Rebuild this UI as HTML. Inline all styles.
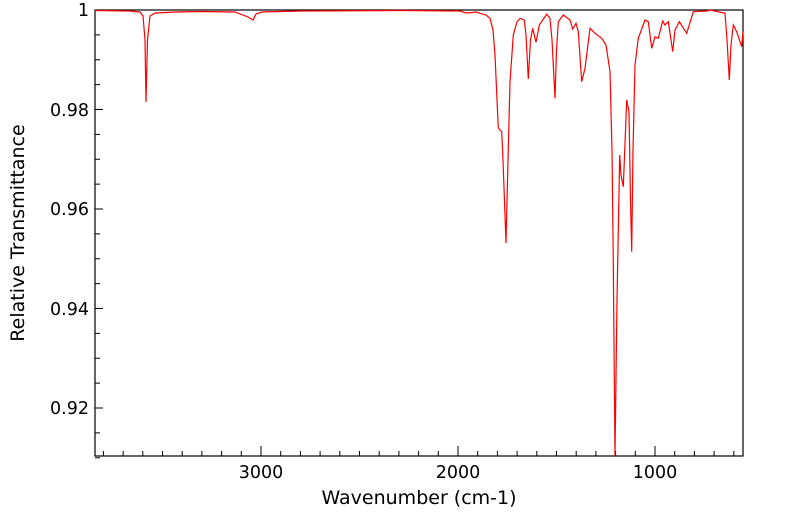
<!DOCTYPE html>
<html><head><style>body{margin:0;background:#fff}svg{display:block}text{font-family:"DejaVu Sans","Liberation Sans",sans-serif;fill:#000}</style></head><body>
<svg width="799" height="516" viewBox="0 0 799 516">
<rect x="95" y="10" width="648" height="446" fill="none" stroke="#000" stroke-width="1.2"/>
<g stroke="#000" stroke-width="1">
<path d="M261 456v-10M458 456v-10M655 456v-10"/>
</g>
<g id="ticks" stroke="#000" stroke-width="1"></g>
<g font-size="17.5">
<text x="261" y="478" text-anchor="middle">3000</text>
<text x="458" y="478" text-anchor="middle">2000</text>
<text x="655" y="478" text-anchor="middle">1000</text>
<text x="89" y="16" text-anchor="end">1</text>
<text x="89" y="116" text-anchor="end">0.98</text>
<text x="89" y="215" text-anchor="end">0.96</text>
<text x="89" y="315" text-anchor="end">0.94</text>
<text x="89" y="414" text-anchor="end">0.92</text>
</g>
<g font-size="19">
<text x="419" y="504" text-anchor="middle">Wavenumber (cm-1)</text>
<text transform="translate(24,233) rotate(-90)" text-anchor="middle">Relative Transmittance</text>
</g>
<polyline fill="none" stroke="#f00" stroke-width="1.2" points="95,10.5 130,11 140,12 143,16 145,40 146,102 147.5,40 150,16 155,13 175,12 200,11.5 235,12 248,17 253,20 256,14 262,12 300,11 400,10.5 460,11 466,13 472,12.5 476,12 480,13.3 486,15 490,18.3 493,30 495,55 497,100 498.3,128 501.7,131.7 503,160 506,243 508,160 510,82 513.3,35 517,22 520,18.3 524.3,20 526,35 528.3,79 530.5,40 532.7,28.3 536,42.3 539.3,25 546.7,14.3 550,18.3 552,40 555,98.3 556.5,50 558.3,21.7 563.3,15 570,20 572.7,29 576,23.3 578.3,31.7 581.7,81.7 585,68.3 590,28.3 595,33.3 601.7,38.3 606,45 610,71.7 612,150 613.3,265 615,456 617,300 619.7,155 621,175 623.3,186.7 626.7,100 629,111.7 630.5,200 631.7,251.7 633,150 635,65 638.3,38.3 645,20 648.3,21.7 651.7,48.3 655,36.7 658.3,38.3 662.7,21 665,25 668.3,21.7 672.7,51.7 675,30 679.3,21.7 686.7,33.3 693.3,11.7 706.7,11 710,10 725,13.3 727,40 729.3,80 731,45 733.3,25 736.7,31.7 741.7,46.7 743,31.7"/>
</svg>
<script>
var g=document.getElementById('ticks'),s='';
for(var w=3800;w>=600;w-=100){var x=261+(3000-w)*0.197;if(w%1000)s+='<line x1="'+x+'" y1="456" x2="'+x+'" y2="451"/>';}
for(var v=0;v<=18;v++){var y=10+v*24.875;var L=(v%4==0)?8:5;s+='<line x1="95" y1="'+y+'" x2="'+(95+L)+'" y2="'+y+'"/>';}
g.innerHTML=s;
</script>
</body></html>
